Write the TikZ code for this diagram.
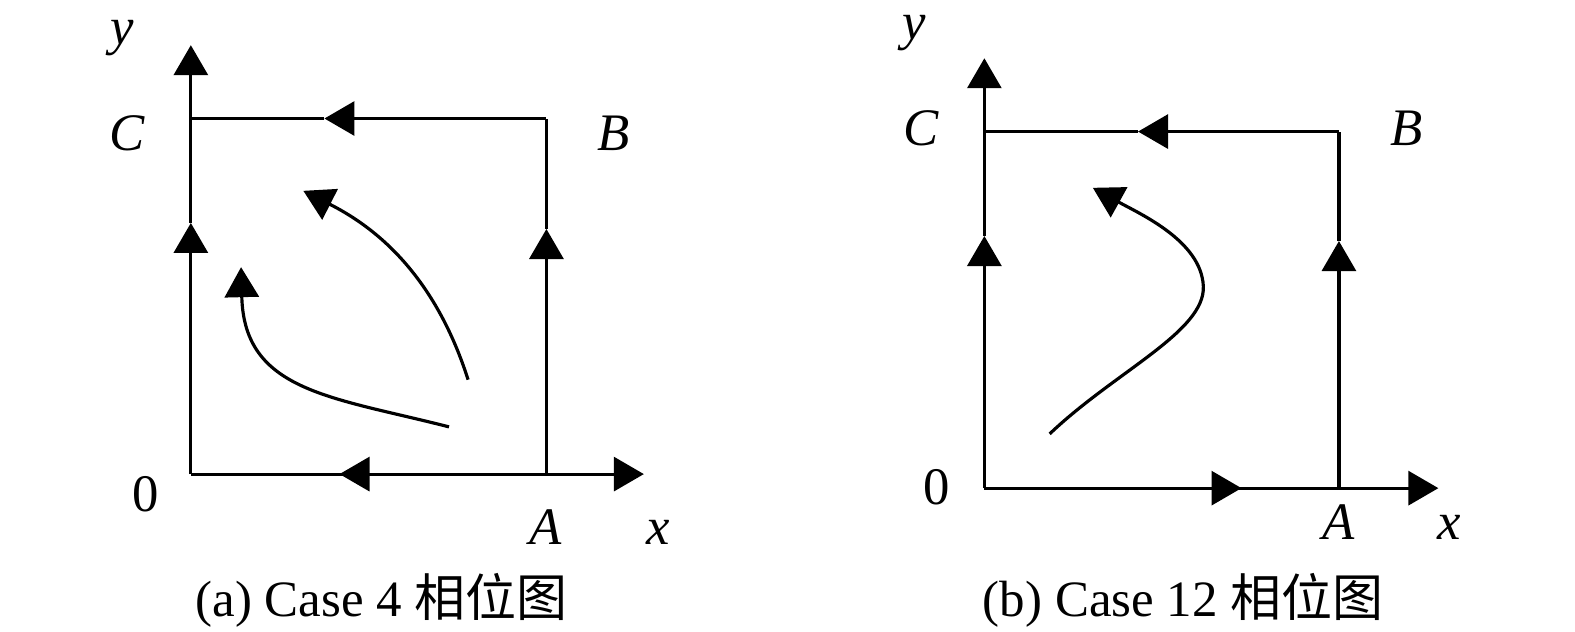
\documentclass[tikz,border=0pt]{standalone}
\usepackage{fontspec}
\setmainfont{Liberation Serif}
\newfontfamily\cjk{Noto Sans CJK SC}
\usetikzlibrary{arrows.meta}

\begin{document}
\begin{tikzpicture}[x=0.10045mm, y=-0.10045mm, line width=0.9pt,
  >={Triangle[length=3mm, width=3.4mm]},
  lbl/.style={font=\fontsize{15}{18}\selectfont\itshape, inner sep=0pt},
  num/.style={font=\fontsize{15}{18}\selectfont, inner sep=0pt},
  caption/.style={font=\fontsize{14.5}{17}\selectfont, inner sep=0pt}]

\useasboundingbox (0,0) rectangle (1568,629);

% Panel (a): corners and axis ends
\coordinate (O1) at (190,472);
\coordinate (A1) at (544,472);
\coordinate (B1) at (544,118);
\coordinate (C1) at (190,118);
\coordinate (X1) at (641,472);
\coordinate (Y1) at (190,45);

% Axes
\draw[->] (O1) -- (X1);
\draw[->] (O1) -- (190,222);
\draw[->] (190,222) -- (Y1);

% Boundary A -> B -> C and A -> 0
\draw[->] (A1) -- (544,228);
\draw (544,228) -- (B1);
\draw[->] (B1) -- (323,118);
\draw (323,118) -- (C1);
\draw[->] (A1) -- (338,472);

% Trajectories
\draw[->] (466,378) .. controls (430,265) and (365,222) .. (302,190);
\draw[->] (447,425) .. controls (330,395) and (243,390) .. (240,266);

% Labels
\node[lbl] (ya) at (122,38) {y};
\node[lbl] (Ca) at (127,133) {C};
\node[lbl] (Ba) at (611,133) {B};
\node[num] (Oa) at (145,492) {0};
\node[lbl] (Aa) at (543,525) {A};
\node[lbl] (xa) at (655,530) {x};
\node[caption] (capa) at (380,598) {(a) Case 4 {\cjk 相位图}};

% Panel (b): corners and axis ends
\coordinate (O2) at (980,486);
\coordinate (A2) at (1333,486);
\coordinate (B2) at (1333,131);
\coordinate (C2) at (980,131);
\coordinate (X2) at (1432,486);
\coordinate (Y2) at (980,58);

% Axes
\draw[->] (O2) -- (X2);
\draw[->] (O2) -- (1236,486);
\draw[->] (O2) -- (980,235);
\draw[->] (980,235) -- (Y2);

% Boundary A -> B -> C
\draw[->] (A2) -- (1333,240);
\draw (1333,240) -- (B2);
\draw[->] (B2) -- (1133,131);
\draw (1133,131) -- (C2);

% Trajectory
\draw[->] (1045,432) .. controls (1110,370) and (1200,330) .. (1198,285)
  .. controls (1196,240) and (1135,213) .. (1088,187);

% Labels
\node[lbl] (yb) at (910,33) {y};
\node[lbl] (Cb) at (917,128) {C};
\node[lbl] (Bb) at (1400,128) {B};
\node[num] (Ob) at (933,485) {0};
\node[lbl] (Ab) at (1333,520) {A};
\node[lbl] (xb) at (1443,525) {x};
\node[caption] (capb) at (1178,598) {(b) Case 12 {\cjk 相位图}};

\end{tikzpicture}
\end{document}
